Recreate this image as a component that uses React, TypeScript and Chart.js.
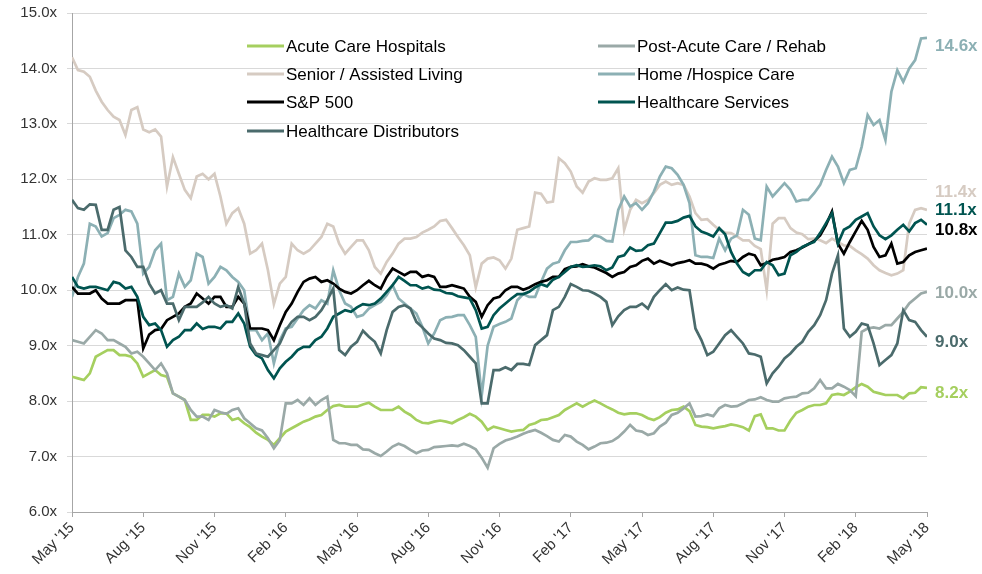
import React, { useEffect, useRef } from 'react';
import { Chart, registerables } from 'chart.js';

Chart.register(...registerables);

// x positions: months since May '15, one reading every quarter month
const monthStep = 0.25;
const tickLabels = ["May '15", "Aug '15", "Nov '15", "Feb '16", "May '16", "Aug '16", "Nov '16", "Feb '17", "May '17", "Aug '17", "Nov '17", "Feb '18", "May '18"];

const seriesNames = ['Acute Care Hospitals', 'Post-Acute Care / Rehab', 'Senior / Assisted Living', 'Home /Hospice Care', 'S&P 500', 'Healthcare Services', 'Healthcare Distributors'];
const seriesColors = ['#a5cf5f', '#9aa9a7', '#d6cbc2', '#8cb0b4', '#000000', '#005450', '#4b6b6c'];

const acute = [
  8.44, 8.41, 8.38, 8.5, 8.8, 8.86, 8.92, 8.92, 8.83, 8.83, 8.8, 8.68,
  8.44, 8.5, 8.56, 8.47, 8.44, 8.14, 8.08, 8.02, 7.66, 7.66, 7.75, 7.75,
  7.72, 7.78, 7.78, 7.66, 7.69, 7.6, 7.53, 7.43, 7.36, 7.3, 7.21, 7.33,
  7.45, 7.51, 7.57, 7.63, 7.67, 7.72, 7.75, 7.84, 7.91, 7.93, 7.9, 7.9,
  7.9, 7.94, 7.97, 7.9, 7.84, 7.84, 7.84, 7.9, 7.81, 7.75, 7.66, 7.61,
  7.6, 7.63, 7.65, 7.63, 7.6, 7.66, 7.71, 7.77, 7.72, 7.63, 7.48, 7.54,
  7.51, 7.48, 7.45, 7.47, 7.48, 7.57, 7.6, 7.66, 7.67, 7.71, 7.75, 7.84,
  7.9, 7.96, 7.9, 7.96, 8.01, 7.96, 7.9, 7.85, 7.79, 7.76, 7.78, 7.78,
  7.75, 7.69, 7.66, 7.71, 7.79, 7.84, 7.85, 7.9, 7.82, 7.57, 7.54, 7.53,
  7.51, 7.53, 7.55, 7.58, 7.56, 7.53, 7.47, 7.73, 7.76, 7.51, 7.51, 7.47,
  7.47, 7.65, 7.79, 7.84, 7.9, 7.93, 7.93, 7.96, 8.11, 8.13, 8.11, 8.17,
  8.25, 8.31, 8.26, 8.17, 8.14, 8.11, 8.11, 8.11, 8.05, 8.14, 8.15, 8.25,
  8.24,
];
const postAcute = [
  9.1, 9.07, 9.04, 9.16, 9.28, 9.22, 9.1, 9.1, 9.04, 8.98, 8.86, 8.89,
  8.8, 8.68, 8.56, 8.68, 8.5, 8.14, 8.08, 8.02, 7.84, 7.72, 7.72, 7.66,
  7.84, 7.8, 7.77, 7.84, 7.87, 7.69, 7.6, 7.51, 7.47, 7.33, 7.15, 7.3,
  7.96, 7.96, 8.02, 7.93, 8.05, 7.93, 8.02, 8.08, 7.3, 7.24, 7.24, 7.21,
  7.21, 7.13, 7.12, 7.06, 7.01, 7.09, 7.18, 7.23, 7.19, 7.12, 7.06, 7.11,
  7.12, 7.17, 7.18, 7.19, 7.2, 7.19, 7.23, 7.19, 7.13, 6.98, 6.8, 7.15,
  7.23, 7.29, 7.32, 7.36, 7.41, 7.45, 7.48, 7.43, 7.37, 7.3, 7.27, 7.39,
  7.36, 7.27, 7.21, 7.13, 7.18, 7.24, 7.25, 7.28, 7.35, 7.45, 7.57, 7.47,
  7.45, 7.39, 7.42, 7.54, 7.61, 7.75, 7.79, 7.87, 7.96, 7.72, 7.73, 7.76,
  7.73, 7.87, 7.93, 7.9, 7.91, 7.96, 8.02, 8.03, 8.07, 8.02, 7.99, 7.99,
  8.05, 8.07, 8.08, 8.14, 8.15, 8.23, 8.38, 8.23, 8.23, 8.31, 8.26, 8.2,
  8.09, 9.25, 9.31, 9.33, 9.31, 9.37, 9.37, 9.49, 9.61, 9.76, 9.85, 9.94,
  9.97,
];
const senior = [
  14.2, 13.97, 13.94, 13.85, 13.6, 13.4, 13.25, 13.13, 13.07, 12.8, 13.25, 13.3,
  12.9, 12.85, 12.9, 12.77, 11.87, 12.4, 12.1, 11.81, 11.66, 12.05, 12.1, 12.0,
  12.1, 11.69, 11.2, 11.39, 11.48, 11.2, 10.66, 10.72, 10.84, 10.36, 9.75, 10.12,
  10.24, 10.84, 10.72, 10.66, 10.72, 10.84, 10.96, 11.2, 11.15, 10.84, 10.66, 10.78,
  10.9, 10.9, 10.72, 10.42, 10.3, 10.51, 10.66, 10.84, 10.93, 10.93, 10.96, 11.04,
  11.09, 11.15, 11.25, 11.27, 11.12, 10.96, 10.81, 10.63, 10.05, 10.48, 10.57, 10.59,
  10.54, 10.39, 10.57, 11.09, 11.12, 11.15, 11.76, 11.74, 11.58, 11.6, 12.38, 12.29,
  12.14, 11.87, 11.76, 11.96, 12.02, 11.99, 11.99, 12.02, 12.2, 11.09, 11.45, 11.63,
  11.57, 11.63, 11.75, 11.9, 11.96, 11.9, 11.93, 11.9, 11.69, 11.39, 11.27, 11.28,
  11.18, 11.09, 11.04, 11.03, 10.97, 10.9, 10.9, 10.8, 10.74, 10.0, 11.2, 11.3,
  11.3, 11.12, 11.04, 11.01, 10.92, 10.93, 10.9, 10.85, 10.93, 10.87, 10.81, 10.8,
  10.72, 10.65, 10.57, 10.45, 10.36, 10.31, 10.27, 10.3, 10.36, 11.2, 11.45, 11.48,
  11.45,
];
const homeHospice = [
  9.88, 10.24, 10.48, 11.2, 11.15, 10.97, 11.03, 11.3, 11.36, 11.45, 11.42, 11.2,
  10.3, 10.42, 10.72, 10.84, 9.82, 9.88, 10.3, 10.06, 10.18, 10.66, 10.6, 10.12,
  10.24, 10.42, 10.36, 10.24, 10.15, 10.0, 9.28, 9.28, 9.1, 9.22, 8.68, 9.1,
  9.31, 9.34, 9.49, 9.64, 9.73, 9.67, 9.82, 9.76, 10.36, 10.0, 9.76, 9.7,
  9.52, 9.55, 9.67, 9.73, 9.79, 9.91, 10.09, 9.85, 9.76, 9.67, 9.58, 9.34,
  9.04, 9.22, 9.46, 9.51, 9.52, 9.55, 9.55, 9.37, 9.16, 8.1, 9.0, 9.34,
  9.39, 9.43, 9.49, 9.82, 9.93, 9.88, 9.88, 10.15, 10.39, 10.48, 10.51, 10.72,
  10.87, 10.87, 10.89, 10.9, 10.99, 10.96, 10.89, 10.88, 11.45, 11.69, 11.51, 11.57,
  11.45, 11.57, 11.78, 12.05, 12.23, 12.2, 12.08, 11.9, 11.57, 10.63, 10.6, 10.6,
  10.58, 10.93, 10.72, 10.93, 10.99, 11.45, 11.36, 10.93, 10.9, 11.87, 11.69, 11.81,
  11.93, 11.81, 11.6, 11.63, 11.63, 11.75, 11.9, 12.17, 12.41, 12.23, 11.93, 12.17,
  12.2, 12.59, 13.16, 12.98, 13.07, 12.71, 13.58, 13.97, 13.76, 14.0, 14.15, 14.54,
  14.55,
];
const sp500 = [
  10.06, 9.94, 9.94, 9.94, 10.0, 9.85, 9.76, 9.76, 9.76, 9.82, 9.82, 9.82,
  8.95, 9.2, 9.28, 9.3, 9.46, 9.52, 9.58, 9.7, 9.76, 9.94, 9.85, 9.76,
  9.88, 9.88, 9.7, 9.7, 9.88, 9.76, 9.31, 9.31, 9.31, 9.28, 9.1, 9.37,
  9.61, 9.76, 9.97, 10.15, 10.21, 10.24, 10.15, 10.18, 10.12, 10.03, 9.97, 9.94,
  10.0, 10.09, 10.17, 10.09, 10.03, 10.24, 10.39, 10.33, 10.27, 10.33, 10.33, 10.24,
  10.27, 10.24, 10.06, 10.06, 10.09, 10.06, 10.03, 9.88, 9.79, 9.52, 9.73, 9.85,
  9.88, 10.0, 10.06, 10.06, 10.01, 10.05, 10.11, 10.15, 10.18, 10.24, 10.24, 10.38,
  10.42, 10.43, 10.47, 10.43, 10.41, 10.36, 10.31, 10.24, 10.3, 10.33, 10.42, 10.45,
  10.53, 10.57, 10.48, 10.53, 10.49, 10.45, 10.49, 10.51, 10.54, 10.48, 10.48, 10.45,
  10.39, 10.46, 10.49, 10.53, 10.51, 10.6, 10.66, 10.63, 10.45, 10.49, 10.55, 10.57,
  10.6, 10.69, 10.72, 10.77, 10.83, 10.89, 10.99, 11.18, 11.42, 10.84, 10.66, 10.87,
  11.06, 11.25, 11.09, 10.78, 10.6, 10.63, 10.84, 10.48, 10.51, 10.63, 10.69, 10.72,
  10.75,
];
const hcServices = [
  10.24, 10.06, 10.03, 10.06, 10.06, 10.03, 10.0, 10.15, 10.12, 10.03, 10.06, 9.88,
  9.52, 9.37, 9.4, 9.28, 8.98, 9.1, 9.16, 9.28, 9.28, 9.4, 9.3, 9.34,
  9.34, 9.31, 9.43, 9.43, 9.58, 9.4, 8.98, 8.83, 8.77, 8.56, 8.41, 8.59,
  8.71, 8.8, 8.92, 8.98, 8.98, 9.1, 9.16, 9.31, 9.52, 9.58, 9.64, 9.61,
  9.69, 9.75, 9.73, 9.76, 9.85, 9.97, 10.09, 10.24, 10.17, 10.09, 10.09, 10.03,
  10.06, 10.01, 10.0, 9.95, 9.94, 9.89, 9.87, 9.85, 9.64, 9.31, 9.34, 9.55,
  9.67, 9.76, 9.85, 9.93, 9.93, 9.97, 10.05, 10.11, 10.07, 10.19, 10.24, 10.33,
  10.42, 10.45, 10.42, 10.43, 10.45, 10.43, 10.36, 10.41, 10.6, 10.63, 10.77, 10.71,
  10.72, 10.81, 10.84, 11.03, 11.22, 11.22, 11.25, 11.31, 11.34, 11.15, 11.06, 11.02,
  10.97, 11.12, 11.01, 10.69, 10.48, 10.33, 10.27, 10.36, 10.36, 10.51, 10.45, 10.27,
  10.3, 10.63, 10.69, 10.78, 10.83, 10.87, 11.03, 11.21, 11.39, 10.84, 11.09, 11.15,
  11.27, 11.33, 11.39, 11.15, 10.99, 10.92, 10.99, 11.09, 11.18, 11.06, 11.21, 11.27,
  11.18,
];
const hcDistributors = [
  11.63, 11.48, 11.45, 11.55, 11.54, 11.09, 11.09, 11.45, 11.5, 10.72, 10.6, 10.42,
  10.42, 10.12, 9.94, 10.0, 9.76, 9.76, 9.46, 9.7, 9.7, 9.7, 9.78, 9.88,
  9.76, 9.7, 9.73, 9.67, 10.06, 9.76, 9.04, 8.86, 8.83, 8.8, 8.92, 9.04,
  9.28, 9.43, 9.52, 9.52, 9.46, 9.52, 9.64, 9.82, 10.03, 8.92, 8.83, 8.98,
  9.07, 9.27, 9.16, 9.07, 8.86, 9.28, 9.61, 9.7, 9.73, 9.67, 9.43, 9.33,
  9.22, 9.13, 9.1, 9.05, 9.04, 9.01, 8.92, 8.8, 8.68, 7.96, 7.96, 8.56,
  8.56, 8.61, 8.56, 8.67, 8.67, 8.65, 9.01, 9.1, 9.19, 9.64, 9.7, 9.88,
  10.11, 10.06, 10.0, 9.99, 9.94, 9.88, 9.79, 9.37, 9.53, 9.64, 9.7, 9.7,
  9.76, 9.67, 9.88, 10.0, 10.11, 10.0, 10.05, 10.01, 10.0, 9.31, 9.1, 8.83,
  8.89, 9.04, 9.19, 9.28, 9.16, 9.04, 8.86, 8.84, 8.8, 8.32, 8.5, 8.62,
  8.77, 8.86, 8.98, 9.07, 9.25, 9.37, 9.55, 9.82, 10.3, 10.63, 9.31, 9.16,
  9.25, 9.4, 9.37, 9.04, 8.65, 8.74, 8.83, 9.04, 9.64, 9.46, 9.43, 9.28,
  9.16,
];

const seriesValues = [acute, postAcute, senior, homeHospice, sp500, hcServices, hcDistributors];

const endLabels = ['8.2x', '10.0x', '11.4x', '14.6x', '10.8x', '11.1x', '9.0x'];
const endLabelValues = [8.2, 10.0, 11.4, 14.6, 10.8, 11.1, 9.0];

const FONT = "'Liberation Sans', Arial, sans-serif";

export default function App() {
  const canvasRef = useRef<HTMLCanvasElement | null>(null);

  useEffect(() => {
    const canvas = canvasRef.current;
    if (!canvas) return;

    // small vertical nudges so the right-hand labels do not collide
    const labelNudge = [3, 3, -20, 11.5, -16, -19, -3.5];

    const overlay = {
      id: 'overlay',
      afterDraw(chart: any) {
        const ctx = chart.ctx;
        const area = chart.chartArea;
        const yScale = chart.scales.y;
        ctx.save();
        // legend
        const colX = [area.left + 175, area.left + 526];
        const rowY = [area.top + 33, area.top + 61, area.top + 89, area.top + 118];
        ctx.font = `17px ${FONT}`;
        ctx.textBaseline = 'middle';
        ctx.textAlign = 'left';
        seriesNames.forEach((name, i) => {
          const cx = colX[i % 2];
          const cy = rowY[Math.floor(i / 2)];
          ctx.strokeStyle = seriesColors[i];
          ctx.lineWidth = 3;
          ctx.beginPath();
          ctx.moveTo(cx, cy);
          ctx.lineTo(cx + 37, cy);
          ctx.stroke();
          ctx.fillStyle = '#000';
          ctx.fillText(name, cx + 39, cy + 1);
        });
        // end labels
        ctx.font = `bold 17px ${FONT}`;
        endLabels.forEach((t, i) => {
          const y = yScale.getPixelForValue(endLabelValues[i]) + labelNudge[i];
          ctx.fillStyle = seriesColors[i];
          ctx.fillText(t, area.right + 8, y);
        });
        ctx.restore();
      },
    };

    const chart = new Chart(canvas, {
      type: 'line',
      data: {
        datasets: seriesValues.map((vals, i) => ({
          label: seriesNames[i],
          data: vals.map((v, k) => ({ x: k * monthStep, y: v })),
          borderColor: seriesColors[i],
          backgroundColor: seriesColors[i],
          borderWidth: 2.7,
          pointRadius: 0,
          tension: 0,
          fill: false,
          order: seriesValues.length - i,
        })),
      },
      options: {
        responsive: false,
        animation: false,
        devicePixelRatio: 1,
        layout: { padding: { top: 13, right: 55, left: 0, bottom: 0 } },
        plugins: {
          legend: { display: false },
          tooltip: { enabled: false },
        },
        scales: {
          x: {
            type: 'linear',
            min: 0,
            max: 36,
            ticks: {
              stepSize: 3,
              autoSkip: false,
              minRotation: 45,
              maxRotation: 45,
              padding: 2,
              color: '#333',
              font: { family: FONT, size: 15 },
              callback: (v: any) => tickLabels[Math.round(Number(v) / 3)] ?? '',
            },
            grid: { drawOnChartArea: false, drawTicks: true, tickLength: 5, color: '#a6a6a6' },
            border: { color: '#a6a6a6', width: 1 },
            afterFit: (s: any) => { s.height = 62; s.paddingLeft = 0; s.paddingRight = 0; },
          },
          y: {
            min: 6,
            max: 15,
            ticks: {
              stepSize: 1,
              padding: 10,
              color: '#333',
              font: { family: FONT, size: 15 },
              callback: (v: any) => Number(v).toFixed(1) + 'x',
            },
            grid: { color: '#d9d9d9', lineWidth: 1, tickLength: 5 },
            border: { color: '#a6a6a6', width: 1 },
            afterFit: (s: any) => { s.width = 72; s.paddingTop = 0; s.paddingBottom = 0; },
          },
        },
      },
      plugins: [overlay],
    } as any);

    return () => chart.destroy();
  }, []);

  return (
    <div style={{ position: 'absolute', left: 0, top: 0, width: 982, height: 574, background: '#fff' }}>
      <canvas ref={canvasRef} width={982} height={574} style={{ width: 982, height: 574, display: 'block' }} />
    </div>
  );
}
